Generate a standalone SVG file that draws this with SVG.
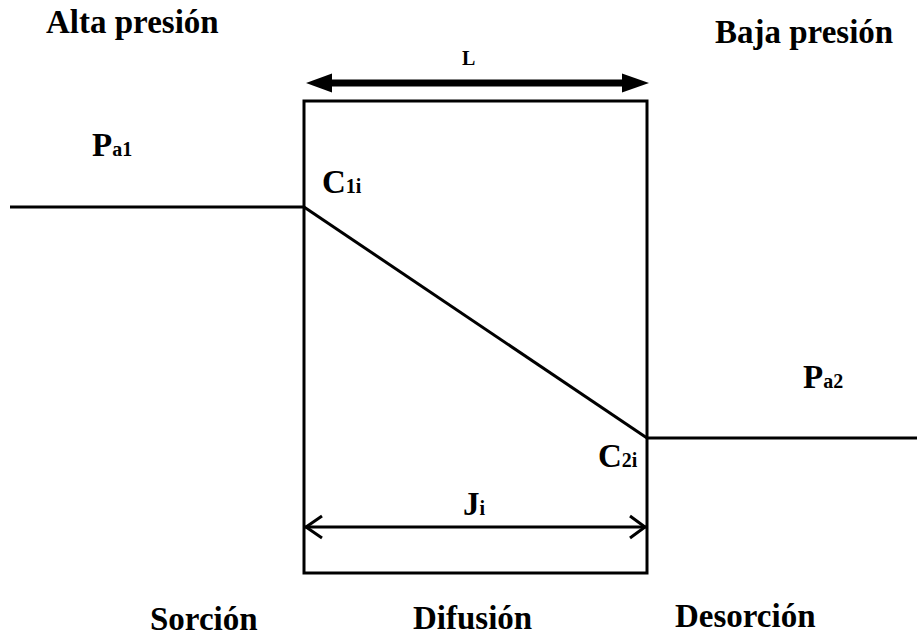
<svg xmlns="http://www.w3.org/2000/svg" width="917" height="637" viewBox="0 0 917 637">
<style>
text{font-family:'Liberation Serif','DejaVu Serif',serif;font-weight:700;fill:#000}
.big{font-size:33px}
.sub{font-size:20px}
.ln{stroke:#000;stroke-width:3;fill:none}
</style>
<rect width="917" height="637" fill="#fff"/>
<g id="membrane">
<rect x="304" y="101" width="343" height="472" class="ln" stroke-width="3.5"/>
</g>
<g id="connectors">
<line x1="10" y1="207" x2="304" y2="207" class="ln"/>
<line x1="304" y1="207" x2="647" y2="438" class="ln"/>
<line x1="647" y1="438" x2="917" y2="438" class="ln"/>
<g id="L-arrow">
<line x1="328" y1="83" x2="626" y2="83" stroke="#000" stroke-width="7"/>
<polygon points="306,83 332,73.5 332,92.5" fill="#000"/>
<polygon points="649,83 622,73.5 622,92.5" fill="#000"/>
</g>
<g id="J-arrow">
<line x1="305" y1="527" x2="646" y2="527" class="ln" stroke-width="4"/>
<polyline points="322,516 306,527 322,538" class="ln" stroke-width="4"/>
<polyline points="630,516 645,527 630,538" class="ln" stroke-width="4"/>
</g>
</g>
<g id="labels" font-family="Liberation Serif, serif" font-weight="bold">
<text class="big" x="46" y="33">Alta presión</text>
<text class="big" x="715" y="43">Baja presión</text>
<text class="sub" x="462" y="65">L</text>
<text class="big" x="92" y="156">P<tspan class="sub">a1</tspan></text>
<text class="big" x="803" y="388">P<tspan class="sub">a2</tspan></text>
<text class="big" x="322" y="193">C<tspan class="sub">1i</tspan></text>
<text class="big" x="598" y="467">C<tspan class="sub">2i</tspan></text>
<text class="big" x="463" y="515">J<tspan class="sub">i</tspan></text>
<text class="big" x="150" y="630">Sorción</text>
<text class="big" x="413" y="629">Difusión</text>
<text class="big" x="675" y="627">Desorción</text>
</g>
</svg>
